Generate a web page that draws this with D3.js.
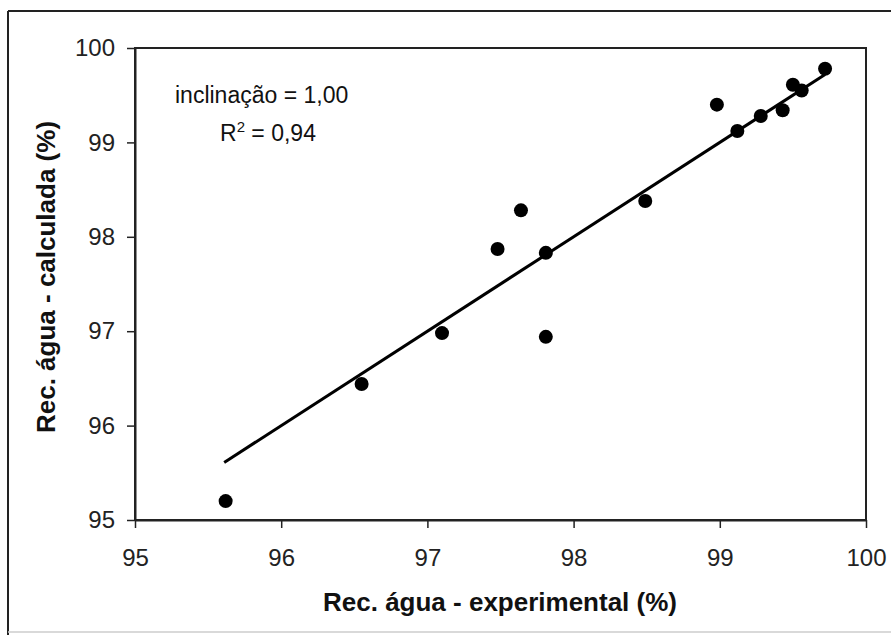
<!DOCTYPE html>
<html lang="en">
    <head>
        <meta charset="utf-8">
        <title>Rec. agua</title>
        <script src="https://d3js.org/d3.v7.min.js"></script>
        <style type="text/css">
            body {
                margin: 0;
                background: white;
            }
            .tick text {
                font-family: "Liberation Sans", Arial, sans-serif;
                font-size: 24px;
                fill: #222;
            }
            .axistitle {
                font-family: "Liberation Sans", Arial, sans-serif;
                font-weight: bold;
                fill: #111;
            }
            .note {
                font-family: "Liberation Sans", Arial, sans-serif;
                font-size: 23px;
                fill: #111;
            }
        </style>
    </head>
    <body>
        <svg width="891" height="635"></svg>
        <script type="text/javascript">

            // experimental vs calculated water recovery (%)
            const experimental = [95.62, 96.55, 97.10, 97.48, 97.64, 97.81, 97.81, 98.49, 98.98, 99.12, 99.28, 99.43, 99.50, 99.56, 99.72];
            const calculada    = [95.20, 96.44, 96.98, 97.87, 98.28, 97.83, 96.94, 98.38, 99.40, 99.12, 99.28, 99.34, 99.61, 99.55, 99.78];
            const xTicks = [95, 96, 97, 98, 99, 100];
            const yTicks = [95, 96, 97, 98, 99, 100];
            // fitted line (slope 1,00)
            const fitX = [95.61, 99.72];
            const fitY = [95.61, 99.72];

            const svg = d3.select("svg");

            const pLeft = 135, pRight = 866, pTop = 48, pBottom = 520;

            const x = d3.scaleLinear().domain([95, 100]).range([pLeft, pRight]);
            const y = d3.scaleLinear().domain([95, 100]).range([pBottom, pTop]);

            // outer frame
            svg.append("line").attr("x1", 8).attr("x2", 891).attr("y1", 11).attr("y2", 11)
               .attr("stroke", "#222").attr("stroke-width", 2);
            svg.append("line").attr("x1", 8).attr("x2", 8).attr("y1", 11).attr("y2", 635)
               .attr("stroke", "#222").attr("stroke-width", 2);
            svg.append("line").attr("x1", 8).attr("x2", 891).attr("y1", 632).attr("y2", 632)
               .attr("stroke", "#ccc").attr("stroke-width", 1.5);

            // plot box
            svg.append("rect")
               .attr("x", pLeft).attr("y", pTop)
               .attr("width", pRight - pLeft).attr("height", pBottom - pTop)
               .attr("fill", "none").attr("stroke", "#222").attr("stroke-width", 2);

            //Axes
            const xAxis = svg.append("g")
               .attr("transform", "translate(0," + pBottom + ")")
               .call(d3.axisBottom(x).tickValues(xTicks).tickFormat(d3.format("d"))
                     .tickSize(8).tickPadding(21).tickSizeOuter(0));
            const yAxis = svg.append("g")
               .attr("transform", "translate(" + pLeft + ",0)")
               .call(d3.axisLeft(y).tickValues(yTicks).tickFormat(d3.format("d"))
                     .tickSize(8).tickPadding(12).tickSizeOuter(0));

            [xAxis, yAxis].forEach(a => {
                a.select(".domain").attr("stroke", "#222").attr("stroke-width", 2);
                a.selectAll(".tick line").attr("stroke", "#222").attr("stroke-width", 1.5);
            });

            // fit line
            svg.append("line")
               .attr("x1", x(fitX[0])).attr("y1", y(fitY[0]))
               .attr("x2", x(fitX[1])).attr("y2", y(fitY[1]))
               .attr("stroke", "#000").attr("stroke-width", 3);

            // points
            svg.selectAll("circle.pt")
               .data(experimental)
               .enter()
               .append("circle")
               .attr("class", "pt")
               .attr("cx", d => x(d))
               .attr("cy", (d, i) => y(calculada[i]))
               .attr("r", 7)
               .attr("fill", "#000");

            // annotation
            svg.append("text")
               .attr("class", "note")
               .attr("x", 175).attr("y", 103)
               .text("inclinação = 1,00");
            const r2 = svg.append("text")
               .attr("class", "note")
               .attr("x", 220).attr("y", 141);
            r2.append("tspan").text("R");
            r2.append("tspan").attr("dy", -9).attr("font-size", 15).text("2");
            r2.append("tspan").attr("dy", 9).text(" = 0,94");

            // axis titles
            svg.append("text")
               .attr("class", "axistitle")
               .attr("font-size", 26)
               .attr("x", 500).attr("y", 611)
               .attr("text-anchor", "middle")
               .text("Rec. água - experimental (%)");
            svg.append("text")
               .attr("class", "axistitle")
               .attr("font-size", 26)
               .attr("transform", "translate(55,277) rotate(-90)")
               .attr("text-anchor", "middle")
               .text("Rec. água - calculada (%)");

        </script>
    </body>
</html>
